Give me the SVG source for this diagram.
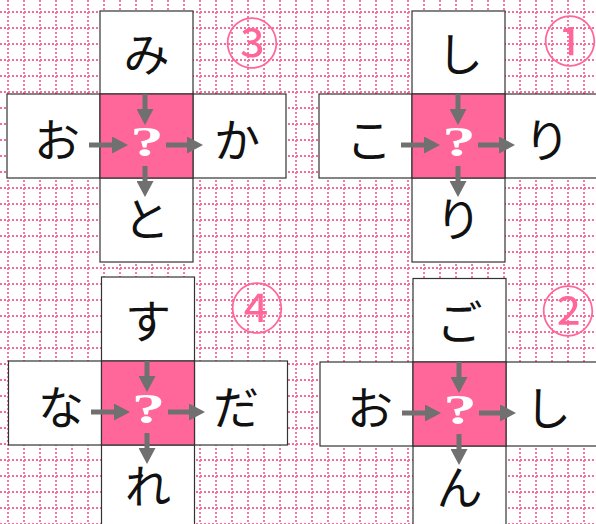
<svg xmlns="http://www.w3.org/2000/svg" width="596" height="524" viewBox="0 0 596 524">
<style>
.box{fill:#ffffff;stroke:#333333;stroke-width:1.2}
.hub{fill:#ff6699;stroke:#333333;stroke-width:1.2}
.kana{font-family:"Noto Sans CJK JP","Noto Sans",sans-serif;font-size:46px;fill:#111111;text-anchor:middle}
.q{font-family:"Liberation Serif",serif;font-weight:bold;font-size:42px;fill:#ffffff;text-anchor:middle}
.num{font-family:"Noto Sans CJK JP","DejaVu Sans",sans-serif;font-size:54px;fill:#ff6699;text-anchor:middle}
.arr{stroke:#707070;stroke-width:5;fill:none;marker-end:url(#ah)}
</style>
<defs>
<pattern id="grid" patternUnits="userSpaceOnUse" x="0" y="0" width="16" height="16">
<line x1="8" y1="0" x2="8" y2="16" stroke="#f36d9e" stroke-width="1.8" stroke-dasharray="2 2"/>
<line x1="0" y1="12" x2="16" y2="12" stroke="#f36d9e" stroke-width="1.8" stroke-dasharray="2 2"/>
</pattern>
<marker id="ah" markerUnits="userSpaceOnUse" markerWidth="16" markerHeight="17" refX="4" refY="8.5" orient="auto">
<path d="M0,0 L16,8.5 L0,17 z" fill="#707070"/>
</marker>
</defs>
<rect width="596" height="524" fill="#ffffff"/>
<rect width="596" height="524" fill="url(#grid)"/>

<!-- Panel 3 (x0=100,y0=94) -->
<g id="p3-top"><rect class="box" x="100" y="11" width="93" height="83"/><text class="kana" x="146.5" y="71">み</text></g>
<g id="p3-left"><rect class="box" x="7" y="94" width="93" height="84"/><text class="kana" x="57" y="157">お</text></g>
<g id="p3-right"><rect class="box" x="193" y="94" width="93" height="84"/><text class="kana" x="237" y="157">か</text></g>
<g id="p3-bottom"><rect class="box" x="100" y="178" width="93" height="84"/><text class="kana" x="146.5" y="236">と</text></g>
<g id="p3-center"><rect class="hub" x="100" y="94" width="93" height="84"/><text class="q" x="147" y="156" transform="translate(147 0) scale(1.6 1) translate(-147 0)">?</text></g>
<g id="p3-label"><text class="num" x="252" y="64">③</text></g>

<!-- Panel 1 (x0=412,y0=94) -->
<g id="p1-top"><rect class="box" x="412" y="11" width="93" height="83"/><text class="kana" x="460" y="71">し</text></g>
<g id="p1-left"><rect class="box" x="319" y="94" width="93" height="84"/><text class="kana" x="369" y="157">こ</text></g>
<g id="p1-right"><rect class="box" x="505" y="94" width="93" height="84"/><text class="kana" x="547" y="157">り</text></g>
<g id="p1-bottom"><rect class="box" x="412" y="178" width="93" height="84"/><text class="kana" x="458.5" y="236">り</text></g>
<g id="p1-center"><rect class="hub" x="412" y="94" width="93" height="84"/><text class="q" x="459" y="156" transform="translate(459 0) scale(1.6 1) translate(-459 0)">?</text></g>
<g id="p1-label"><text class="num" x="570" y="62">①</text></g>

<!-- Panel 4 (x0=101.5,y0=361) -->
<g id="p4-top"><rect class="box" x="101.5" y="277" width="93" height="84"/><text class="kana" x="148" y="338">す</text></g>
<g id="p4-left"><rect class="box" x="8.5" y="361" width="93" height="84"/><text class="kana" x="61" y="424">な</text></g>
<g id="p4-right"><rect class="box" x="194.5" y="361" width="93" height="84"/><text class="kana" x="236" y="424">だ</text></g>
<g id="p4-bottom"><rect class="box" x="101.5" y="445" width="93" height="84"/><text class="kana" x="148" y="503">れ</text></g>
<g id="p4-center"><rect class="hub" x="101.5" y="361" width="93" height="84"/><text class="q" x="148.5" y="423" transform="translate(148.5 0) scale(1.6 1) translate(-148.5 0)">?</text></g>
<g id="p4-label"><text class="num" x="257" y="329">④</text></g>

<!-- Panel 2 (x0=413,y0=362) -->
<g id="p2-top"><rect class="box" x="413" y="278.5" width="93" height="83.5"/><text class="kana" x="459.5" y="339">ご</text></g>
<g id="p2-left"><rect class="box" x="320" y="362" width="93" height="84"/><text class="kana" x="370" y="425">お</text></g>
<g id="p2-right"><rect class="box" x="506" y="362" width="93" height="84"/><text class="kana" x="548" y="425">し</text></g>
<g id="p2-bottom"><rect class="box" x="413" y="446" width="93" height="84"/><text class="kana" x="459.5" y="504">ん</text></g>
<g id="p2-center"><rect class="hub" x="413" y="362" width="93" height="84"/><text class="q" x="460" y="424" transform="translate(460 0) scale(1.6 1) translate(-460 0)">?</text></g>
<g id="p2-label"><text class="num" x="568" y="332">②</text></g>

<g id="connectors">
<!-- panel 3 -->
<line class="arr" x1="145" y1="94" x2="145" y2="113"/>
<line class="arr" x1="89" y1="145" x2="116" y2="145"/>
<line class="arr" x1="166" y1="145" x2="191" y2="145"/>
<line class="arr" x1="145" y1="166" x2="145" y2="185"/>
<!-- panel 1 -->
<line class="arr" x1="458" y1="94" x2="458" y2="113"/>
<line class="arr" x1="401" y1="145" x2="428" y2="145"/>
<line class="arr" x1="478" y1="145" x2="503" y2="145"/>
<line class="arr" x1="458" y1="166" x2="458" y2="185"/>
<!-- panel 4 -->
<line class="arr" x1="147" y1="361" x2="147" y2="380"/>
<line class="arr" x1="91" y1="412" x2="118" y2="412"/>
<line class="arr" x1="168" y1="412" x2="193" y2="412"/>
<line class="arr" x1="147" y1="433" x2="147" y2="452"/>
<!-- panel 2 -->
<line class="arr" x1="459" y1="362" x2="459" y2="381"/>
<line class="arr" x1="402" y1="413" x2="429" y2="413"/>
<line class="arr" x1="479" y1="413" x2="504" y2="413"/>
<line class="arr" x1="459" y1="434" x2="459" y2="453"/>
</g>
</svg>
